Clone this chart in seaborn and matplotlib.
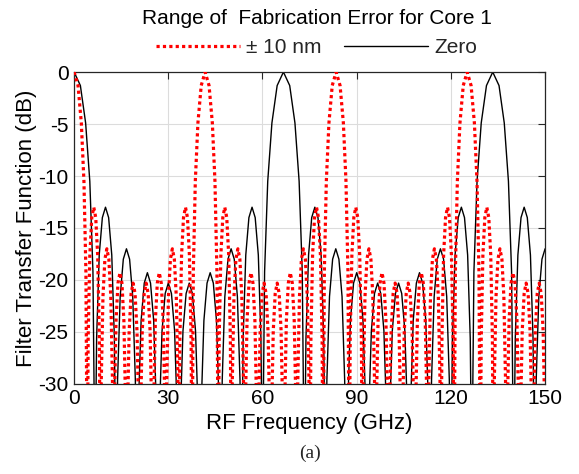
import matplotlib
matplotlib.use("Agg")
import matplotlib.pyplot as plt
import seaborn as sns
import pandas as pd

# ---------------- data ----------------
# x tick labels / y tick labels
x_ticks = [0, 30, 60, 90, 120, 150]
y_ticks = [0, -5, -10, -15, -20, -25, -30]

# "± 10 nm" curve (red dotted): frequency (GHz) and level (dB)
red_freq_ghz = [
    0.00, 1.25, 2.30, 3.13, 3.76, 4.18,
    4.48, 5.01, 5.63, 6.26, 6.89, 7.51, 8.04, 8.35,
    8.66, 9.19, 9.81, 10.44, 11.07, 11.69, 12.22, 12.53,
    12.83, 13.36, 13.98, 14.61, 15.24, 15.86, 16.39, 16.70,
    17.01, 17.54, 18.16, 18.79, 19.42, 20.04, 20.57, 20.88,
    21.18, 21.71, 22.33, 22.96, 23.59, 24.21, 24.74, 25.05,
    25.36, 25.89, 26.51, 27.14, 27.77, 28.39, 28.92, 29.23,
    29.53, 30.06, 30.68, 31.31, 31.94, 32.56, 33.09, 33.40,
    33.71, 34.24, 34.86, 35.49, 36.12, 36.74, 37.27, 37.58,
    37.99, 38.62, 39.45, 40.50, 41.75, 43.00, 44.05, 44.88, 45.51, 45.93,
    46.23, 46.76, 47.38, 48.01, 48.64, 49.26, 49.79, 50.10,
    50.41, 50.94, 51.56, 52.19, 52.82, 53.44, 53.97, 54.28,
    54.58, 55.11, 55.73, 56.36, 56.99, 57.61, 58.14, 58.45,
    58.76, 59.29, 59.91, 60.54, 61.17, 61.79, 62.32, 62.63,
    62.93, 63.46, 64.08, 64.71, 65.34, 65.96, 66.49, 66.80,
    67.11, 67.64, 68.26, 68.89, 69.52, 70.14, 70.67, 70.98,
    71.28, 71.81, 72.43, 73.06, 73.69, 74.31, 74.84, 75.15,
    75.46, 75.99, 76.61, 77.24, 77.87, 78.49, 79.02, 79.33,
    79.74, 80.37, 81.20, 82.25, 83.50, 84.75, 85.80, 86.63, 87.26, 87.68,
    87.98, 88.51, 89.13, 89.76, 90.39, 91.01, 91.54, 91.85,
    92.16, 92.69, 93.31, 93.94, 94.57, 95.19, 95.72, 96.03,
    96.33, 96.86, 97.48, 98.11, 98.74, 99.36, 99.89, 100.20,
    100.51, 101.04, 101.66, 102.29, 102.92, 103.54, 104.07, 104.38,
    104.68, 105.21, 105.83, 106.46, 107.09, 107.71, 108.24, 108.55,
    108.86, 109.39, 110.01, 110.64, 111.27, 111.89, 112.42, 112.73,
    113.03, 113.56, 114.18, 114.81, 115.44, 116.06, 116.59, 116.90,
    117.21, 117.74, 118.36, 118.99, 119.62, 120.24, 120.77, 121.08,
    121.49, 122.12, 122.95, 124.00, 125.25, 126.50, 127.55, 128.38, 129.01, 129.43,
    129.73, 130.26, 130.88, 131.51, 132.14, 132.76, 133.29, 133.60,
    133.91, 134.44, 135.06, 135.69, 136.32, 136.94, 137.47, 137.78,
    138.08, 138.61, 139.23, 139.86, 140.49, 141.11, 141.64, 141.95,
    142.26, 142.79, 143.41, 144.04, 144.67, 145.29, 145.82, 146.13,
    146.43, 146.96, 147.58, 148.21, 148.84, 149.46, 149.99, 150.30,
]
red_db = [
    0.0, -1.3, -4.9, -10.5, -19.2, -40,
    -25.6, -17.6, -14.0, -13.0, -14.0, -17.6, -25.6, -40,
    -29.6, -21.6, -18.0, -17.0, -18.0, -21.6, -29.6, -40,
    -31.9, -23.9, -20.3, -19.3, -20.3, -23.9, -31.9, -40,
    -32.9, -24.9, -21.3, -20.3, -21.3, -24.9, -32.9, -40,
    -32.9, -24.9, -21.3, -20.3, -21.3, -24.9, -32.9, -40,
    -31.9, -23.9, -20.3, -19.3, -20.3, -23.9, -31.9, -40,
    -29.6, -21.6, -18.0, -17.0, -18.0, -21.6, -29.6, -40,
    -25.6, -17.6, -14.0, -13.0, -14.0, -17.6, -25.6, -40,
    -19.2, -10.5, -4.9, -1.3, 0.0, -1.3, -4.9, -10.5, -19.2, -40,
    -25.6, -17.6, -14.0, -13.0, -14.0, -17.6, -25.6, -40,
    -29.6, -21.6, -18.0, -17.0, -18.0, -21.6, -29.6, -40,
    -31.9, -23.9, -20.3, -19.3, -20.3, -23.9, -31.9, -40,
    -32.9, -24.9, -21.3, -20.3, -21.3, -24.9, -32.9, -40,
    -32.9, -24.9, -21.3, -20.3, -21.3, -24.9, -32.9, -40,
    -31.9, -23.9, -20.3, -19.3, -20.3, -23.9, -31.9, -40,
    -29.6, -21.6, -18.0, -17.0, -18.0, -21.6, -29.6, -40,
    -25.6, -17.6, -14.0, -13.0, -14.0, -17.6, -25.6, -40,
    -19.2, -10.5, -4.9, -1.3, 0.0, -1.3, -4.9, -10.5, -19.2, -40,
    -25.6, -17.6, -14.0, -13.0, -14.0, -17.6, -25.6, -40,
    -29.6, -21.6, -18.0, -17.0, -18.0, -21.6, -29.6, -40,
    -31.9, -23.9, -20.3, -19.3, -20.3, -23.9, -31.9, -40,
    -32.9, -24.9, -21.3, -20.3, -21.3, -24.9, -32.9, -40,
    -32.9, -24.9, -21.3, -20.3, -21.3, -24.9, -32.9, -40,
    -31.9, -23.9, -20.3, -19.3, -20.3, -23.9, -31.9, -40,
    -29.6, -21.6, -18.0, -17.0, -18.0, -21.6, -29.6, -40,
    -25.6, -17.6, -14.0, -13.0, -14.0, -17.6, -25.6, -40,
    -19.2, -10.5, -4.9, -1.3, 0.0, -1.3, -4.9, -10.5, -19.2, -40,
    -25.6, -17.6, -14.0, -13.0, -14.0, -17.6, -25.6, -40,
    -29.6, -21.6, -18.0, -17.0, -18.0, -21.6, -29.6, -40,
    -31.9, -23.9, -20.3, -19.3, -20.3, -23.9, -31.9, -40,
    -32.9, -24.9, -21.3, -20.3, -21.3, -24.9, -32.9, -40,
    -32.9, -24.9, -21.3, -20.3, -21.3, -24.9, -32.9, -40,
]

# "Zero" curve (black solid): frequency (GHz) and level (dB)
black_freq_ghz = [
    0.00, 2.00, 3.67, 5.00, 6.00, 6.67,
    7.17, 8.00, 9.00, 10.00, 11.00, 12.00, 12.83, 13.34,
    13.85, 14.68, 15.68, 16.68, 17.68, 18.68, 19.51, 20.01,
    20.52, 21.35, 22.35, 23.35, 24.35, 25.35, 26.18, 26.68,
    27.19, 28.02, 29.02, 30.02, 31.02, 32.02, 32.85, 33.35,
    33.86, 34.69, 35.69, 36.69, 37.69, 38.69, 39.52, 40.02,
    40.53, 41.36, 42.36, 43.36, 44.36, 45.36, 46.19, 46.69,
    47.20, 48.03, 49.03, 50.03, 51.03, 52.03, 52.86, 53.36,
    53.87, 54.70, 55.70, 56.70, 57.70, 58.70, 59.53, 60.03,
    60.70, 61.70, 63.03, 64.70, 66.70, 68.70, 70.37, 71.70, 72.70, 73.37,
    73.88, 74.71, 75.71, 76.71, 77.71, 78.71, 79.54, 80.04,
    80.55, 81.38, 82.38, 83.38, 84.38, 85.38, 86.21, 86.71,
    87.22, 88.05, 89.05, 90.05, 91.05, 92.05, 92.88, 93.38,
    93.89, 94.72, 95.72, 96.72, 97.72, 98.72, 99.55, 100.05,
    100.56, 101.39, 102.39, 103.39, 104.39, 105.39, 106.22, 106.72,
    107.23, 108.06, 109.06, 110.06, 111.06, 112.06, 112.89, 113.39,
    113.90, 114.73, 115.73, 116.73, 117.73, 118.73, 119.56, 120.06,
    120.57, 121.40, 122.40, 123.40, 124.40, 125.40, 126.23, 126.73,
    127.40, 128.40, 129.73, 131.40, 133.40, 135.40, 137.07, 138.40, 139.40, 140.07,
    140.58, 141.41, 142.41, 143.41, 144.41, 145.41, 146.24, 146.74,
    147.25, 148.08, 149.08, 150.08, 151.08,
]
black_db = [
    0.0, -1.3, -4.9, -10.5, -19.2, -40,
    -25.6, -17.6, -14.0, -13.0, -14.0, -17.6, -25.6, -40,
    -29.6, -21.6, -18.0, -17.0, -18.0, -21.6, -29.6, -40,
    -31.9, -23.9, -20.3, -19.3, -20.3, -23.9, -31.9, -40,
    -32.9, -24.9, -21.3, -20.3, -21.3, -24.9, -32.9, -40,
    -32.9, -24.9, -21.3, -20.3, -21.3, -24.9, -32.9, -40,
    -31.9, -23.9, -20.3, -19.3, -20.3, -23.9, -31.9, -40,
    -29.6, -21.6, -18.0, -17.0, -18.0, -21.6, -29.6, -40,
    -25.6, -17.6, -14.0, -13.0, -14.0, -17.6, -25.6, -40,
    -19.2, -10.5, -4.9, -1.3, 0.0, -1.3, -4.9, -10.5, -19.2, -40,
    -25.6, -17.6, -14.0, -13.0, -14.0, -17.6, -25.6, -40,
    -29.6, -21.6, -18.0, -17.0, -18.0, -21.6, -29.6, -40,
    -31.9, -23.9, -20.3, -19.3, -20.3, -23.9, -31.9, -40,
    -32.9, -24.9, -21.3, -20.3, -21.3, -24.9, -32.9, -40,
    -32.9, -24.9, -21.3, -20.3, -21.3, -24.9, -32.9, -40,
    -31.9, -23.9, -20.3, -19.3, -20.3, -23.9, -31.9, -40,
    -29.6, -21.6, -18.0, -17.0, -18.0, -21.6, -29.6, -40,
    -25.6, -17.6, -14.0, -13.0, -14.0, -17.6, -25.6, -40,
    -19.2, -10.5, -4.9, -1.3, 0.0, -1.3, -4.9, -10.5, -19.2, -40,
    -25.6, -17.6, -14.0, -13.0, -14.0, -17.6, -25.6, -40,
    -29.6, -21.6, -18.0, -17.0, -18.0,
]

series_labels = ["\u00b1 10 nm", "Zero"]
legend_title = "Range of  Fabrication Error for Core 1"
x_label = "RF Frequency (GHz)"
y_label = "Filter Transfer Function (dB)"
panel_label = "(a)"

assert len(red_freq_ghz) == len(red_db)
assert len(black_freq_ghz) == len(black_db)

# ---------------- plotting ----------------
sns.set_theme(style="white")
plt.rcParams["font.family"] = ["Liberation Sans", "DejaVu Sans"]
plt.rcParams["axes.unicode_minus"] = False

fig = plt.figure(figsize=(5.79, 4.74), dpi=100)
ax = fig.add_axes([0.128, 0.190, 0.813, 0.658])

red_df = pd.DataFrame({"f": red_freq_ghz, "db": red_db})
black_df = pd.DataFrame({"f": black_freq_ghz, "db": black_db})

sns.lineplot(data=red_df, x="f", y="db", ax=ax, color="#ff0000", linewidth=2.3,
             estimator=None, sort=False, label=series_labels[0], zorder=3,
             dashes=False)
sns.lineplot(data=black_df, x="f", y="db", ax=ax, color="black", linewidth=1.0,
             estimator=None, sort=False, label=series_labels[1], zorder=2)
red_line = ax.lines[0]
red_line.set_dashes([1, 1])
red_line.set_dash_capstyle("butt")

ax.set_xlim(0, 150)
ax.set_ylim(-30, 0)
ax.set_xticks(x_ticks)
ax.set_yticks(y_ticks)
ax.tick_params(axis="both", which="both", direction="in", length=5, width=0.8,
               top=True, right=True, labelsize=15, colors="#262626", pad=4)
for lbl in ax.get_xticklabels() + ax.get_yticklabels():
    lbl.set_color("black")
ax.grid(True, color="#dcdcdc", linewidth=0.8)
ax.set_axisbelow(True)
for sp in ax.spines.values():
    sp.set_color("#262626")
    sp.set_linewidth(0.9)

ax.set_xlabel(x_label, fontsize=16, color="black", labelpad=3)
ax.set_ylabel(y_label, fontsize=16, color="black", labelpad=1)

leg = ax.legend(loc="lower center", bbox_to_anchor=(0.515, 1.035), ncol=2,
                frameon=False, title=legend_title, fontsize=15,
                title_fontsize=15, handlelength=4.0, handletextpad=0.3,
                columnspacing=1.1, borderaxespad=0.0, borderpad=0.2)
leg.get_title().set_color("black")

fig.text(0.535, 0.025, panel_label, ha="center", va="bottom",
         fontsize=14, family=["Liberation Serif", "DejaVu Serif"])

fig.savefig("out.png", dpi=100)
